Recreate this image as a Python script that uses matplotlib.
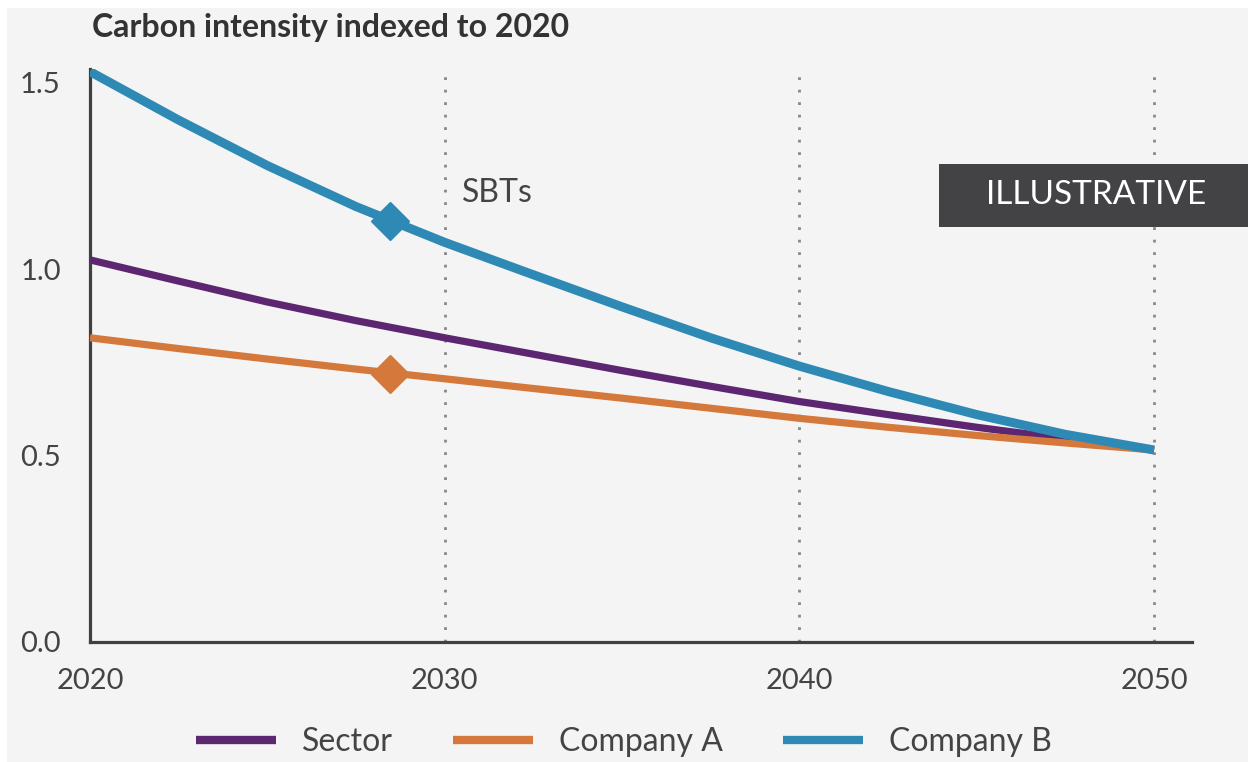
import matplotlib.pyplot as plt
from matplotlib.patches import Rectangle

years = [2020, 2022.5, 2025, 2027.5, 2030, 2032.5, 2035, 2037.5, 2040, 2042.5, 2045, 2047.5, 2050]
sector = [1.025, 0.968, 0.912, 0.862, 0.816, 0.772, 0.728, 0.686, 0.645, 0.610, 0.576, 0.545, 0.515]
company_a = [0.816, 0.787, 0.759, 0.732, 0.706, 0.680, 0.654, 0.627, 0.600, 0.576, 0.554, 0.534, 0.515]
company_b = [1.530, 1.400, 1.278, 1.168, 1.072, 0.985, 0.899, 0.816, 0.740, 0.672, 0.610, 0.557, 0.515]

marker_year = 2028.45
marker_a = 0.720
marker_b = 1.130

x_ticks = [2020, 2030, 2040, 2050]
y_ticks = [0.0, 0.5, 1.0, 1.5]
sbt_lines = [2030, 2040, 2050]

purple = '#5c2670'
orange = '#d4783c'
blue = '#2e8ab5'
dark = '#404040'
bg = '#f4f4f4'
txt = '#444444'

plt.rcParams['font.family'] = ['Lato', 'DejaVu Sans']

fig = plt.figure(figsize=(12.48, 7.62), dpi=100, facecolor='white')
fig.patches.append(Rectangle((7/1248, 0), 1, 1 - 8/762, transform=fig.transFigure,
                             facecolor=bg, edgecolor='none', zorder=-10))

ax = fig.add_axes([90/1248, 120/762, 1102/1248, 573/762])
ax.patch.set_alpha(0)

for x in sbt_lines:
    ax.axvline(x, color='#888888', linestyle=(0, (1, 3.5)), linewidth=2, zorder=1)

ax.plot(years, sector, color=purple, linewidth=5.2, label='Sector', zorder=3,
        solid_capstyle='butt', solid_joinstyle='round')
ax.plot(years, company_a, color=orange, linewidth=5.2, label='Company A', zorder=3,
        solid_capstyle='butt', solid_joinstyle='round')
ax.plot(years, company_b, color=blue, linewidth=6.5, label='Company B', zorder=4,
        solid_capstyle='butt', solid_joinstyle='round')
ax.plot([marker_year], [marker_a], marker='D', markersize=19, color=orange, zorder=5)
ax.plot([marker_year], [marker_b], marker='D', markersize=19, color=blue, zorder=5)

ax.set_xlim(2020, 2051.07)
ax.set_ylim(0, 1.537)
ax.set_xticks(x_ticks)
ax.set_yticks(y_ticks)
ax.set_xticklabels([str(t) for t in x_ticks])
ax.set_yticklabels([f'{t:.1f}' for t in y_ticks])
ax.tick_params(length=0, labelsize=21, colors=txt)
ax.tick_params(axis='x', pad=19)
ax.tick_params(axis='y', pad=21)

for s in ['top', 'right']:
    ax.spines[s].set_visible(False)
for s in ['left', 'bottom']:
    ax.spines[s].set_color(dark)
    ax.spines[s].set_linewidth(2.3)

ax.text(2030.5, 1.205, 'SBTs', fontsize=23, color=txt, va='center', ha='left')

fig.text(92/1248, 1 - 27/762, 'Carbon intensity indexed to 2020', fontsize=23,
         fontweight='bold', color='#333333', va='center', ha='left')

fig.patches.append(Rectangle((939/1248, 1 - 227/762), 309/1248, 63/762,
                             transform=fig.transFigure, facecolor='#434244',
                             edgecolor='none', zorder=5))
fig.text(1096/1248, 1 - 195/762, 'ILLUSTRATIVE', fontsize=24, color='white',
         va='center', ha='center', zorder=6)

leg = fig.legend(loc='center', bbox_to_anchor=(0.5, 1 - 742/762), ncol=3,
                 frameon=False, fontsize=23, handlelength=2.5, handletextpad=0.8,
                 columnspacing=1.9)
for line in leg.get_lines():
    line.set_linewidth(6)
for t in leg.get_texts():
    t.set_color(txt)

fig.savefig('out.png', dpi=100, facecolor=fig.get_facecolor())
